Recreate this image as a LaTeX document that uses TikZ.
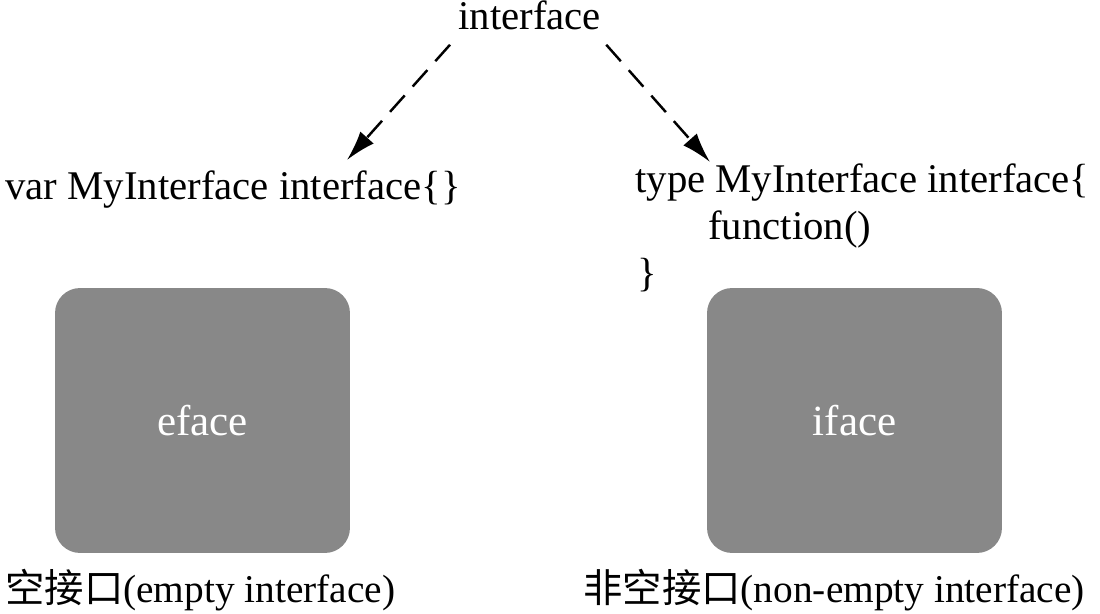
\documentclass[tikz,border=0pt]{standalone}
\usepackage{fontspec}
\setmainfont{Liberation Serif}
\newfontfamily\cjk{Noto Sans CJK SC}
\usetikzlibrary{arrows.meta}
\definecolor{facegray}{HTML}{888888}
\tikzset{
  txt/.style={inner sep=0pt, anchor=base west, font=\fontsize{23.2}{27}\selectfont},
  caption/.style={txt, font=\fontsize{22.4}{27}\selectfont},
  facebox/.style={fill=facegray, rounded corners=0.5cm, minimum width=5.9cm,
    minimum height=5.3cm, inner sep=0pt, text=white, font=\fontsize{24.5}{29}\selectfont},
  dasharrow/.style={dash pattern=on 0.44cm off 0.24cm, line width=1.4pt,
    -{Latex[length=0.6cm,width=0.36cm]}}
}
\begin{document}
\begin{tikzpicture}[x=0.02cm,y=-0.02cm]
\useasboundingbox (0,0) rectangle (1100,614);
% top
\node[txt] (top) at (458,30) {interface};
% declarations
\node[txt] (empty) at (5,200) {var MyInterface interface\{\}};
\node[txt] (full) at (635,193) {type MyInterface interface\{};
\node[txt] (func) at (708,240) {function()};
\node[txt] (close) at (637,287) {\}};
% runtime structs
\node[facebox] (eface) at (202.5,420.5) {eface};
\node[facebox] (iface) at (854.5,420.5) {iface};
\node[caption] (elabel) at (5,603) {{\cjk 空接口}(empty interface)};
\node[caption] (ilabel) at (583,603) {{\cjk 非空接口}(non-empty interface)};
% arrows
\coordinate (lfrom) at ([shift={(-8,14)}]top.south west);
\coordinate (rfrom) at ([shift={(5,14)}]top.south east);
\coordinate (lto) at ([shift={(342,-40)}]empty.base west);
\coordinate (rto) at ([shift={(75,-31)}]full.base west);
\draw[dasharrow] (lfrom) -- (lto);
\draw[dasharrow] (rfrom) -- (rto);
\end{tikzpicture}
\end{document}
